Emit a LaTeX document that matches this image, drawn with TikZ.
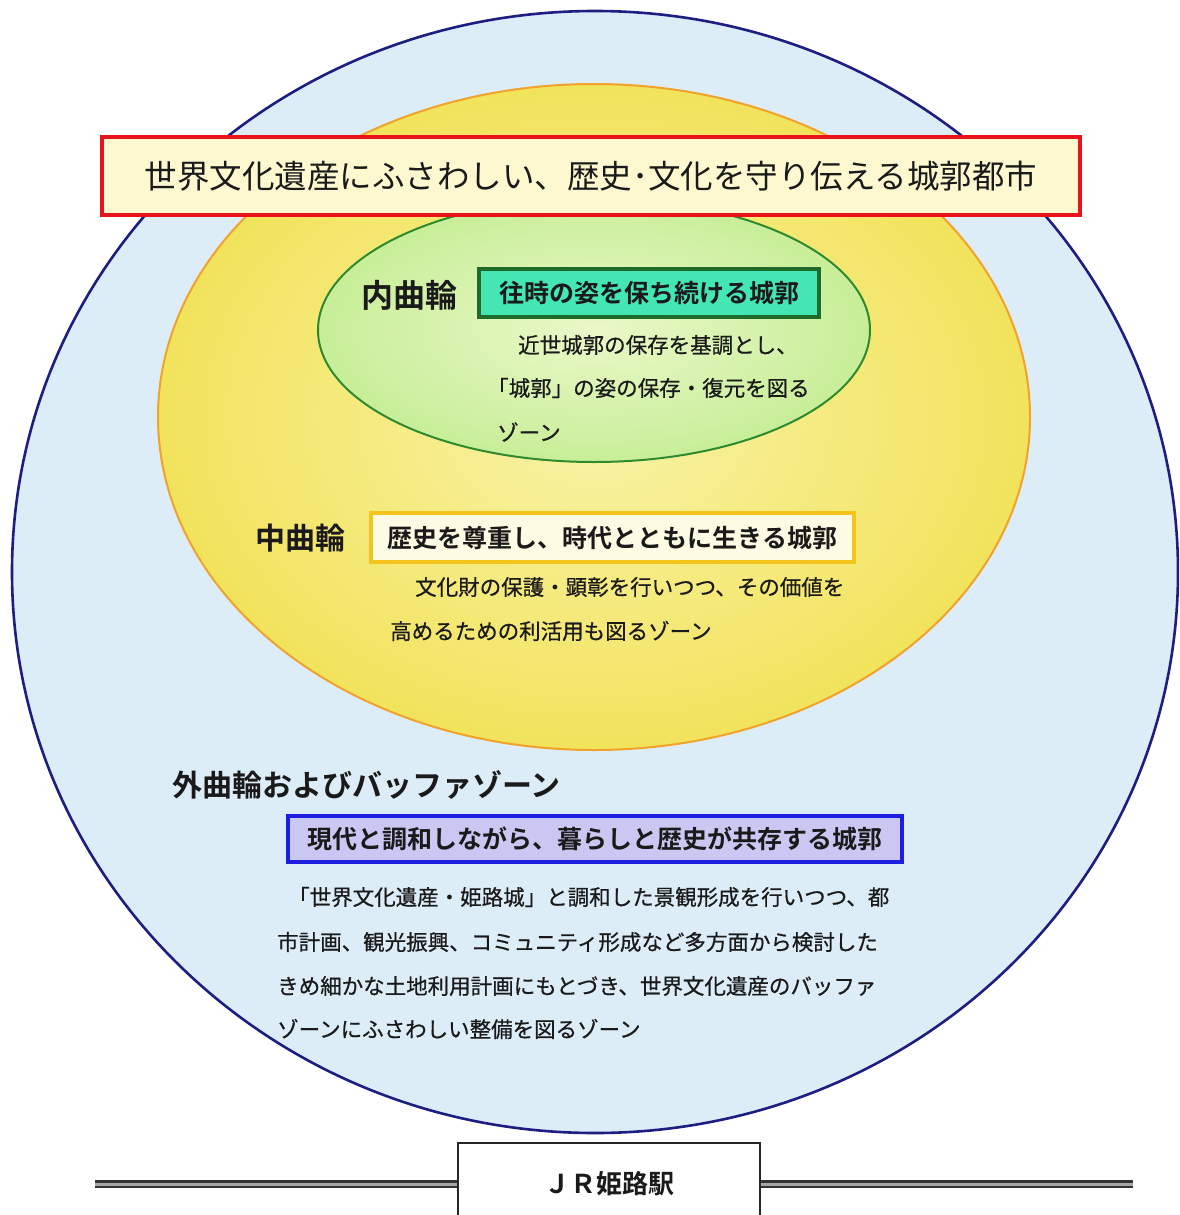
\documentclass[tikz,border=0pt]{standalone}
\usepackage{fontspec}
\setmainfont{Noto Sans CJK JP}[BoldFont={Noto Sans CJK JP Bold}]
\newfontfamily\parafont{Noto Sans CJK JP}[FakeBold=0.6]
\definecolor{outerfill}{HTML}{DDEDF8}
\definecolor{outerline}{HTML}{1E1E82}
\definecolor{yelout}{HTML}{F2E35C}
\definecolor{yelin}{HTML}{F9F3A8}
\definecolor{yelline}{HTML}{F0A22A}
\definecolor{grnout}{HTML}{C8EE98}
\definecolor{grnin}{HTML}{EAF8C8}
\definecolor{grnline}{HTML}{2E8A2E}
\definecolor{redline}{HTML}{E8141C}
\definecolor{cream}{HTML}{FDF8CF}
\definecolor{tealfill}{HTML}{44E6B4}
\definecolor{tealline}{HTML}{1F6B2C}
\definecolor{midfill}{HTML}{FEFBE4}
\definecolor{midline}{HTML}{F4C41C}
\definecolor{bluefill}{HTML}{CAC8F2}
\definecolor{blueline}{HTML}{1E1EE0}
\definecolor{txt}{HTML}{1A1A1A}
\tikzset{
  zonelabel/.style={anchor=west, inner sep=0pt, text=txt, font=\fontsize{30}{34}\selectfont\bfseries},
  headbox/.style={draw, line width=3.5pt, inner sep=0pt, text=txt, font=\fontsize{25}{30}\selectfont\bfseries},
  para/.style={anchor=west, inner sep=0pt, text=txt, font=\parafont\fontsize{21.5}{26}\selectfont},
  rail/.style={draw=black!80, line width=2.6pt, double=black!35, double distance=3pt}
}
\begin{document}
\begin{tikzpicture}[x=1pt, y=-1pt]
\useasboundingbox (0,0) rectangle (1179,1215);
\clip (0,0) rectangle (1179,1215);
\fill[white] (0,0) rectangle (1179,1215);
% zones
\fill[outerfill] (595,572) ellipse [x radius=583, y radius=561];
\draw[outerline, line width=2.6pt] (595,572) ellipse [x radius=583, y radius=561];
\shade[inner color=yelin, outer color=yelout] (594,417) ellipse [x radius=436, y radius=333];
\draw[yelline, line width=2pt] (594,417) ellipse [x radius=436, y radius=333];
\shade[inner color=grnin, outer color=grnout] (594,330) ellipse [x radius=276, y radius=132];
\draw[grnline, line width=2pt] (594,330) ellipse [x radius=276, y radius=132];
% title
\node[draw=redline, fill=cream, line width=4.5pt, minimum width=978pt, minimum height=78pt, inner sep=0pt, text=txt,
      font=\fontsize{32.5}{36}\selectfont] (title) at (591,176) {世界文化遺産にふさわしい、歴史･文化を守り伝える城郭都市};
% inner zone
\node[zonelabel, font=\fontsize{32}{36}\selectfont\bfseries] (innerlbl) at (361,295) {内曲輪};
\node[headbox, draw=tealline, fill=tealfill, minimum width=340pt, minimum height=48pt] (innerbox) at (649,293) {往時の姿を保ち続ける城郭};
\node[para] (inner1) at (518,345) {近世城郭の保存を基調とし、};
\node[para] (inner2) at (487,388) {「城郭」の姿の保存・復元を図る};
\node[para] (inner3) at (497,432) {ゾーン};
% middle zone
\node[zonelabel] (midlbl) at (255,538) {中曲輪};
\node[headbox, draw=midline, fill=midfill, minimum width=483pt, minimum height=49pt] (midbox) at (612.5,537.5) {歴史を尊重し、時代とともに生きる城郭};
\node[para] (mid1) at (415,587) {文化財の保護・顕彰を行いつつ、その価値を};
\node[para] (mid2) at (390,631) {高めるための利活用も図るゾーン};
% outer zone
\node[zonelabel] (outerlbl) at (172,785) {外曲輪およびバッファゾーン};
\node[headbox, draw=blueline, fill=bluefill, minimum width=614pt, minimum height=46pt] (outerbox) at (595,839) {現代と調和しながら、暮らしと歴史が共存する城郭};
\node[para] (outer1) at (288,897) {「世界文化遺産・姫路城」と調和した景観形成を行いつつ、都};
\node[para] (outer2) at (277,942) {市計画、観光振興、コミュニティ形成など多方面から検討した};
\node[para] (outer3) at (277,986) {きめ細かな土地利用計画にもとづき、世界文化遺産のバッファ};
\node[para] (outer4) at (277,1029) {ゾーンにふさわしい整備を図るゾーン};
% station
\node[draw=black!85, fill=white, line width=1.4pt, minimum width=302pt, minimum height=82pt, inner sep=0pt,
      font=\fontsize{26}{30}\selectfont\bfseries, text=txt] (jr) at (609,1184) {\raisebox{3pt}{ＪＲ姫路駅}};
\coordinate (railL) at (95,1184);
\coordinate (railR) at (1133,1184);
\draw[rail] (jr.west) -- (railL);
\draw[rail] (jr.east) -- (railR);
\end{tikzpicture}
\end{document}
